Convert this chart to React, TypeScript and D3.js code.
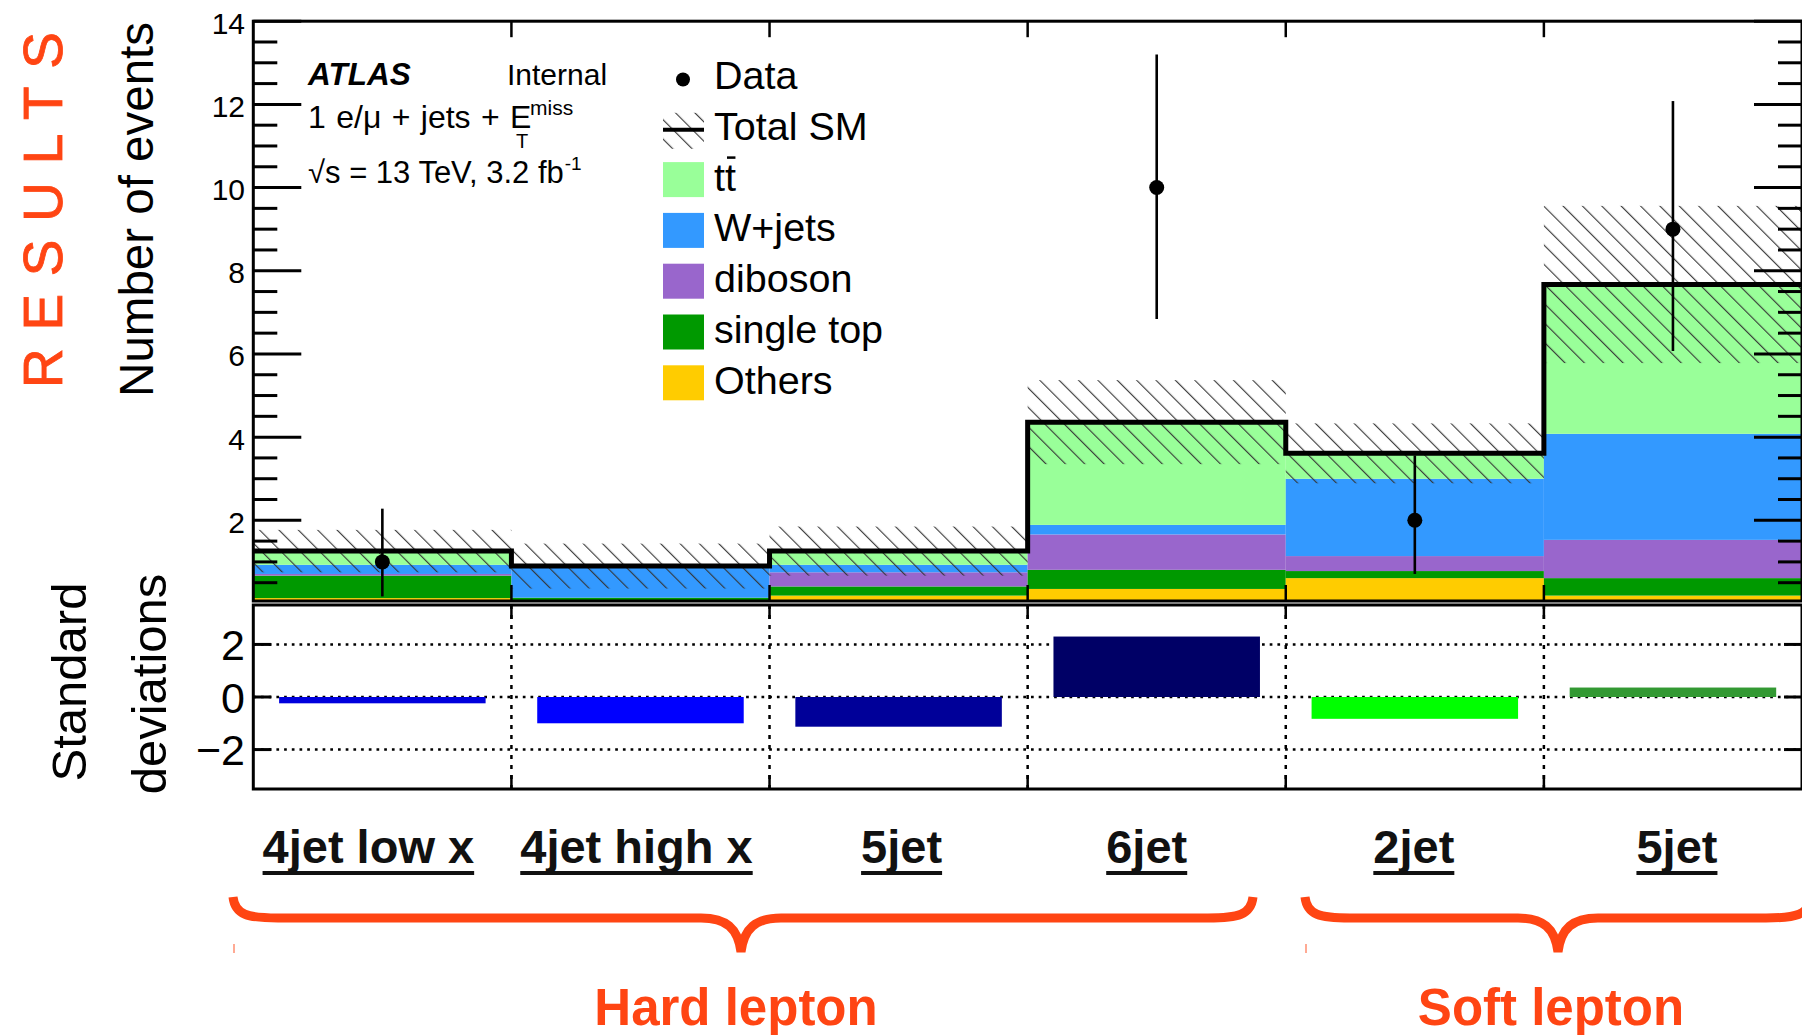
import React, { useEffect, useRef } from "react";
import * as d3 from "d3";

// ---------- data ----------
const categories = ["4jet low x", "4jet high x", "5jet", "6jet", "2jet", "5jet"];
const groupLabels = ["Hard lepton", "Soft lepton"];

const others = [0.13, 0.06, 0.19, 0.35, 0.61, 0.19];
const singleTop = [0.54, 0.08, 0.22, 0.46, 0.17, 0.42];
const diboson = [0.04, 0.0, 0.34, 0.85, 0.36, 0.92];
const wjets = [0.22, 0.74, 0.18, 0.23, 1.86, 2.55];
const ttbar = [0.33, 0.02, 0.33, 2.47, 0.61, 3.59];
const smErr = [0.51, 0.54, 0.59, 1.01, 0.72, 1.89];

const dataObs = [1, 0, 0, 10, 2, 9];
const dataLo = [0.17, 0, 0, 6.84, 0.71, 6.07];
const dataHi = [2.28, 0, 0, 13.2, 3.56, 12.08];

const sigma = [-0.24, -1.0, -1.13, 2.3, -0.83, 0.36];
const sigmaColors = ["#0000dd", "#0000ff", "#000099", "#000066", "#00ff00", "#339933"];

const seriesNames = ["Others", "single top", "diboson", "W+jets", "tt"];
const seriesValues = [others, singleTop, diboson, wjets, ttbar];
const seriesColors = ["#ffcc00", "#009900", "#9966cc", "#3399ff", "#99ff99"];

const mainMajorTicks = [2, 4, 6, 8, 10, 12, 14];
const ratioTicks = [-2, 0, 2];

// ---------- layout ----------
const W = 1802, H = 1035;
const L = 253.3, R = 1802;
const mainTop = 21.2, mainBot = 601;
const ratioTop = 605, ratioBot = 789;
const FONT = "'Liberation Sans', Arial, Helvetica, sans-serif";
const ORANGE = "#ff4513";
const labelDx = [-14, -4, 3, -10, -1, 4];
const braceL = [233, 1305], braceR = [1253, 1811], braceTip = [741, 1558];
const groupCx = [736, 1551];

export default function App() {
  const ref = useRef<SVGSVGElement>(null);

  useEffect(() => {
    document.body.style.margin = "0";
    document.body.style.overflow = "hidden";
    const svg = d3.select(ref.current!);
    svg.selectAll("*").remove();

    const x = d3.scaleLinear().domain([0, 6]).range([L, R]);
    const y = d3.scaleLinear().domain([0.06, 14]).range([mainBot, mainTop]);
    const yr = d3.scaleLinear().domain([-3.5, 3.5]).range([ratioBot, ratioTop]);
    const n = categories.length;
    const tw = (sel: any) => (sel.node() as SVGTextElement).getComputedTextLength();

    const defs = svg.append("defs");
    const pat = defs.append("pattern").attr("id", "hatch").attr("patternUnits", "userSpaceOnUse")
      .attr("width", 13.7).attr("height", 13.7).attr("patternTransform", "rotate(-45)");
    pat.append("line").attr("x1", 0.6).attr("y1", 0).attr("x2", 0.6).attr("y2", 13.7)
      .attr("stroke", "#333").attr("stroke-width", 1.1);
    defs.append("clipPath").attr("id", "mainClip").append("rect")
      .attr("x", L).attr("y", mainTop).attr("width", R - L).attr("height", mainBot - mainTop);

    svg.append("rect").attr("width", W).attr("height", H).attr("fill", "#fff");

    // RESULTS
    svg.append("text").attr("transform", "translate(62,388) rotate(-90)")
      .attr("font-family", FONT).attr("font-size", 55).attr("fill", ORANGE)
      .attr("stroke", ORANGE).attr("stroke-width", 0.8)
      .attr("textLength", 356).attr("lengthAdjust", "spacing").text("RESULTS");

    // ---------- main panel ----------
    const gMain = svg.append("g").attr("clip-path", "url(#mainClip)");
    const totals = d3.range(n).map(i => d3.sum(seriesValues, s => s[i]));
    for (let i = 0; i < n; i++) {
      let cum = 0;
      seriesValues.forEach((s, k) => {
        const v = s[i];
        if (v > 0) {
          gMain.append("rect").attr("x", x(i)).attr("width", x(i + 1) - x(i))
            .attr("y", y(cum + v)).attr("height", y(cum) - y(cum + v)).attr("fill", seriesColors[k]);
        }
        cum += v;
      });
    }
    for (let i = 0; i < n; i++) {
      gMain.append("rect").attr("x", x(i)).attr("width", x(i + 1) - x(i))
        .attr("y", y(totals[i] + smErr[i])).attr("height", y(totals[i] - smErr[i]) - y(totals[i] + smErr[i]))
        .attr("fill", "url(#hatch)");
    }
    let dStep = `M${x(0)},${y(totals[0])}`;
    for (let i = 0; i < n; i++) {
      dStep += ` H${x(i + 1)}`;
      if (i + 1 < n) dStep += ` V${y(totals[i + 1])}`;
    }
    gMain.append("path").attr("d", dStep).attr("fill", "none").attr("stroke", "#000").attr("stroke-width", 5);

    for (let i = 0; i < n; i++) {
      if (dataObs[i] <= 0) continue;
      const cx = (x(i) + x(i + 1)) / 2;
      svg.append("line").attr("x1", cx).attr("x2", cx).attr("y1", y(dataHi[i])).attr("y2", y(dataLo[i]))
        .attr("stroke", "#000").attr("stroke-width", 2.6);
      svg.append("circle").attr("cx", cx).attr("cy", y(dataObs[i])).attr("r", 7.5).attr("fill", "#000");
    }

    // frame + ticks
    const ax = svg.append("g").attr("stroke", "#000").attr("fill", "none");
    ax.append("rect").attr("x", L).attr("y", mainTop).attr("width", R - L).attr("height", mainBot - mainTop)
      .attr("stroke-width", 3);
    const minor = d3.range(1, 28).map(k => k * 0.5).filter(v => v % 2 !== 0);
    [...mainMajorTicks.map(v => ({ v, len: 48 })), ...minor.map(v => ({ v, len: 24 }))].forEach(t => {
      const yy = y(t.v);
      ax.append("line").attr("x1", L).attr("x2", L + t.len).attr("y1", yy).attr("y2", yy).attr("stroke-width", 3);
      ax.append("line").attr("x1", R).attr("x2", R - t.len).attr("y1", yy).attr("y2", yy).attr("stroke-width", 3);
    });
    for (let k = 1; k < n; k++) {
      ax.append("line").attr("x1", x(k)).attr("x2", x(k)).attr("y1", mainBot).attr("y2", mainBot - 16).attr("stroke-width", 2.5);
      ax.append("line").attr("x1", x(k)).attr("x2", x(k)).attr("y1", mainTop).attr("y2", mainTop + 16).attr("stroke-width", 2.5);
    }
    mainMajorTicks.forEach(v => {
      svg.append("text").attr("x", 245).attr("y", y(v) + 12.5).attr("text-anchor", "end")
        .attr("font-family", FONT).attr("font-size", 30).text(String(v));
    });
    svg.append("text").attr("transform", "translate(153,22) rotate(-90)").attr("text-anchor", "end")
      .attr("font-family", FONT).attr("font-size", 47.5).text("Number of events");

    // ATLAS label
    svg.append("text").attr("x", 308).attr("y", 85).attr("font-family", FONT).attr("font-size", 31.5)
      .attr("font-weight", "bold").attr("font-style", "italic").text("ATLAS");
    svg.append("text").attr("x", 507).attr("y", 85).attr("font-family", FONT).attr("font-size", 30).text("Internal");
    const l2 = svg.append("text").attr("x", 308).attr("y", 128).attr("font-family", FONT).attr("font-size", 32);
    l2.append("tspan").attr("word-spacing", 1.5).text("1 e/\u03bc + jets + E");
    l2.append("tspan").attr("x", 530).attr("y", 115).attr("font-size", 21).text("miss");
    l2.append("tspan").attr("x", 516).attr("y", 148).attr("font-size", 20).text("T");
    const l3 = svg.append("text").attr("x", 308).attr("y", 183).attr("font-family", FONT).attr("font-size", 31);
    l3.append("tspan").text("\u221as = 13 TeV, 3.2 fb");
    l3.append("tspan").attr("dx", 1).attr("dy", -13).attr("font-size", 19).text("-1");

    // legend
    const legX = 663, legTx = 714, legY0 = 89, legDy = 50.8, legFs = 39.5;
    const leg = svg.append("g");
    leg.append("circle").attr("cx", 683).attr("cy", legY0 - 9.5).attr("r", 7).attr("fill", "#000");
    leg.append("text").attr("x", legTx).attr("y", legY0).attr("font-family", FONT).attr("font-size", legFs).text("Data");
    const y1 = legY0 + legDy;
    leg.append("rect").attr("x", legX).attr("y", y1 - 27).attr("width", 41).attr("height", 36).attr("fill", "url(#hatch)");
    leg.append("line").attr("x1", legX).attr("x2", legX + 41).attr("y1", y1 - 10).attr("y2", y1 - 10)
      .attr("stroke", "#000").attr("stroke-width", 4);
    leg.append("text").attr("x", legTx).attr("y", y1).attr("font-family", FONT).attr("font-size", legFs).text("Total SM");
    const legOrder = [4, 3, 2, 1, 0];
    legOrder.forEach((k, j) => {
      const yy = legY0 + legDy * (j + 2);
      leg.append("rect").attr("x", legX).attr("y", yy - 28.5).attr("width", 41).attr("height", 35).attr("fill", seriesColors[k]);
      const t = leg.append("text").attr("x", legTx).attr("y", yy).attr("font-family", FONT).attr("font-size", legFs).text(seriesNames[k]);
      if (seriesNames[k] === "tt") {
        const w = tw(t);
        leg.append("line").attr("x1", legTx + w / 2 + 2).attr("x2", legTx + w - 0.5).attr("y1", yy - 33).attr("y2", yy - 33)
          .attr("stroke", "#000").attr("stroke-width", 2.5);
      }
    });

    // ---------- ratio panel ----------
    const gr = svg.append("g");
    ratioTicks.forEach(v => {
      gr.append("line").attr("x1", L).attr("x2", R).attr("y1", yr(v)).attr("y2", yr(v))
        .attr("stroke", "#000").attr("stroke-width", 2.5).attr("stroke-dasharray", "2.7 5");
    });
    for (let k = 1; k < n; k++) {
      gr.append("line").attr("x1", x(k)).attr("x2", x(k)).attr("y1", ratioTop).attr("y2", ratioBot)
        .attr("stroke", "#000").attr("stroke-width", 2.5).attr("stroke-dasharray", "4 6");
      gr.append("line").attr("x1", x(k)).attr("x2", x(k)).attr("y1", ratioTop).attr("y2", ratioTop + 14).attr("stroke", "#000").attr("stroke-width", 2.5);
      gr.append("line").attr("x1", x(k)).attr("x2", x(k)).attr("y1", ratioBot).attr("y2", ratioBot - 14).attr("stroke", "#000").attr("stroke-width", 2.5);
    }
    for (let i = 0; i < n; i++) {
      const w = x(i + 1) - x(i);
      const v = sigma[i];
      gr.append("rect").attr("x", x(i) + 0.1 * w).attr("width", 0.8 * w)
        .attr("y", yr(Math.max(0, v))).attr("height", Math.abs(yr(v) - yr(0))).attr("fill", sigmaColors[i]);
    }
    gr.append("rect").attr("x", L).attr("y", ratioTop).attr("width", R - L).attr("height", ratioBot - ratioTop)
      .attr("fill", "none").attr("stroke", "#000").attr("stroke-width", 3);
    ratioTicks.forEach(v => {
      gr.append("line").attr("x1", L).attr("x2", L + 18).attr("y1", yr(v)).attr("y2", yr(v)).attr("stroke", "#000").attr("stroke-width", 3);
      gr.append("line").attr("x1", R).attr("x2", R - 18).attr("y1", yr(v)).attr("y2", yr(v)).attr("stroke", "#000").attr("stroke-width", 3);
      gr.append("text").attr("x", 245).attr("y", yr(v) + 15.5).attr("text-anchor", "end")
        .attr("font-family", FONT).attr("font-size", 43).text(v < 0 ? "\u2212" + Math.abs(v) : String(v));
    });
    const sd = svg.append("g").attr("font-family", FONT).attr("font-size", 49).attr("text-anchor", "middle");
    sd.append("text").attr("transform", "translate(86,682) rotate(-90)").text("Standard");
    sd.append("text").attr("transform", "translate(166,684) rotate(-90)").text("deviations");

    // category labels
    categories.forEach((c, i) => {
      const cx = (x(i) + x(i + 1)) / 2 + labelDx[i];
      const t = svg.append("text").attr("x", cx).attr("y", 863).attr("text-anchor", "middle")
        .attr("font-family", FONT).attr("font-size", 47).attr("font-weight", "bold").attr("fill", "#111").text(c);
      const w = tw(t);
      svg.append("rect").attr("x", cx - w / 2).attr("y", 871).attr("width", w).attr("height", 4).attr("fill", "#111");
    });

    // braces + group labels
    groupLabels.forEach((g, j) => {
      const l = braceL[j], r = braceR[j], tip = braceTip[j];
      const yTop = 897, yBar = 918, yTip = 952;
      const d = `M${l},${yTop} C${l + 2},${yBar - 3} ${l + 15},${yBar} ${l + 45},${yBar} L${tip - 40},${yBar} ` +
        `C${tip - 15},${yBar} ${tip - 3},${yBar + 10} ${tip},${yTip} C${tip + 3},${yBar + 10} ${tip + 15},${yBar} ${tip + 40},${yBar} ` +
        `L${r - 45},${yBar} C${r - 15},${yBar} ${r - 2},${yBar - 3} ${r},${yTop}`;
      svg.append("path").attr("d", d).attr("fill", "none").attr("stroke", ORANGE).attr("stroke-width", 9);
      svg.append("line").attr("x1", l + 1).attr("x2", l + 1).attr("y1", 944).attr("y2", 953)
        .attr("stroke", ORANGE).attr("stroke-width", 1.5).attr("opacity", 0.6);
      svg.append("text").attr("x", groupCx[j]).attr("y", 1025).attr("text-anchor", "middle")
        .attr("font-family", FONT).attr("font-size", 51).attr("font-weight", "bold").attr("fill", ORANGE).text(g);
    });
  }, []);

  return <svg ref={ref} width={W} height={H} style={{ position: "absolute", left: 0, top: 0, display: "block" }} />;
}
